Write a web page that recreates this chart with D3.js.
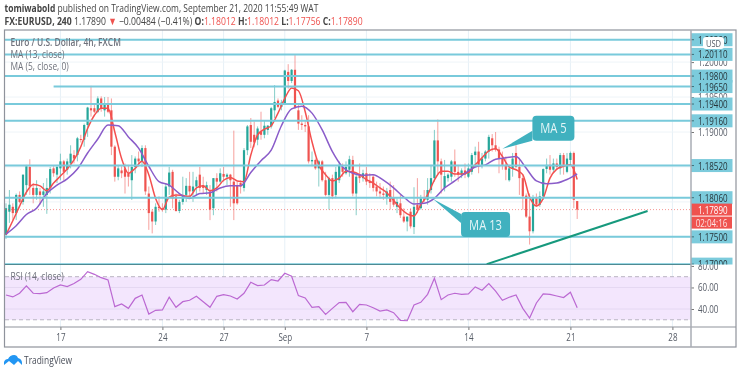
<!DOCTYPE html>
<html>
<head>
<meta charset="utf-8">
<script src="https://cdn.jsdelivr.net/npm/d3@7"></script>
<style>
  html, body { margin: 0; padding: 0; background: #fff; }
  svg { display: block; font-family: "Open Sans", sans-serif; }
</style>
</head>
<body>
<div id="chart"></div>
<script>
// Candle values, one entry per 4h bar
const opens = [
  1.1753,1.1786,1.1793,1.1784,1.1810,1.1800,1.1824,1.1850,1.1820,1.1810,
  1.1815,1.1810,1.1810,1.1820,1.1848,1.1839,1.1848,1.1858,1.1846,1.1855,
  1.1867,1.1867,1.1890,1.1889,1.1910,1.1934,1.1934,1.1929,1.1948,1.1931,
  1.1941,1.1931,1.1879,1.1836,1.1845,1.1848,1.1841,1.1831,1.1850,1.1862,
  1.1858,1.1877,1.1812,1.1786,1.1772,1.1793,1.1791,1.1789,1.1822,1.1843,
  1.1808,1.1787,1.1800,1.1810,1.1823,1.1815,1.1822,1.1839,1.1824,1.1817,
  1.1815,1.1791,1.1834,1.1829,1.1840,1.1836,1.1839,1.1829,1.1824,1.1827,
  1.1820,1.1874,1.1910,1.1896,1.1889,1.1900,1.1896,1.1903,1.1908,1.1931,
  1.1945,1.1936,1.1941,1.1986,1.1973,1.1989,1.1931,1.1912,1.1910,1.1908,
  1.1858,1.1860,1.1848,1.1858,1.1831,1.1810,1.1834,1.1810,1.1831,1.1850,
  1.1841,1.1846,1.1860,1.1812,1.1839,1.1834,1.1841,1.1829,1.1836,1.1822,
  1.1815,1.1812,1.1807,1.1817,1.1807,1.1793,1.1798,1.1779,1.1772,1.1786,
  1.1764,1.1796,1.1791,1.1805,1.1803,1.1817,1.1834,1.1888,1.1858,1.1820,
  1.1834,1.1836,1.1858,1.1843,1.1839,1.1845,1.1836,1.1843,1.1867,1.1872,
  1.1853,1.1862,1.1872,1.1891,1.1881,1.1875,1.1862,1.1853,1.1831,1.1848,
  1.1870,1.1850,1.1834,1.1809,1.1779,1.1758,1.1807,1.1796,1.1808,1.1847,
  1.1853,1.1846,1.1855,1.1848,1.1867,1.1843,1.1860,1.1870,1.18012
];
const highs = [
  1.1798,1.1817,1.1798,1.1812,1.1815,1.1839,1.1853,1.1861,1.1827,1.1831,
  1.1820,1.1827,1.1834,1.1850,1.1851,1.1853,1.1869,1.1860,1.1862,1.1881,
  1.1874,1.1893,1.1896,1.1912,1.1936,1.1966,1.1941,1.1951,1.1951,1.1950,
  1.1950,1.1948,1.1881,1.1853,1.1851,1.1855,1.1853,1.1867,1.1865,1.1872,
  1.1881,1.1881,1.1822,1.1789,1.1798,1.1808,1.1798,1.1827,1.1850,1.1846,
  1.1812,1.1803,1.1836,1.1834,1.1843,1.1843,1.1836,1.1850,1.1836,1.1829,
  1.1824,1.1834,1.1841,1.1848,1.1850,1.1841,1.1840,1.1902,1.1829,1.1831,
  1.1877,1.1910,1.1920,1.1915,1.1908,1.1929,1.1917,1.1910,1.1936,1.1967,
  1.1948,1.1946,1.1989,1.1997,1.1990,1.2010,1.1939,1.1924,1.1917,1.1924,
  1.1872,1.1862,1.1860,1.1860,1.1843,1.1836,1.1839,1.1850,1.1858,1.1855,
  1.1858,1.1866,1.1866,1.1839,1.1855,1.1846,1.1850,1.1841,1.1839,1.1829,
  1.1827,1.1822,1.1820,1.1829,1.1824,1.1805,1.1810,1.1791,1.1779,1.1791,
  1.1821,1.1834,1.1810,1.1817,1.1834,1.1853,1.1903,1.1918,1.1862,1.1860,
  1.1841,1.1860,1.1875,1.1853,1.1848,1.1855,1.1855,1.1870,1.1879,1.1886,
  1.1870,1.1874,1.1896,1.1897,1.1900,1.1879,1.1872,1.1865,1.1853,1.1870,
  1.1881,1.1862,1.1839,1.1812,1.1812,1.1810,1.1812,1.1815,1.1848,1.1862,
  1.1867,1.1862,1.1862,1.1870,1.1870,1.1870,1.1872,1.1872,1.18012
];
const lows = [
  1.1747,1.1770,1.1774,1.1774,1.1798,1.1796,1.1810,1.1810,1.1798,1.1803,
  1.1796,1.1793,1.1783,1.1812,1.1836,1.1827,1.1831,1.1831,1.1839,1.1848,
  1.1855,1.1858,1.1885,1.1879,1.1893,1.1922,1.1927,1.1927,1.1929,1.1922,
  1.1927,1.1867,1.1829,1.1831,1.1834,1.1812,1.1822,1.1803,1.1841,1.1850,
  1.1850,1.1810,1.1760,1.1755,1.1767,1.1786,1.1786,1.1784,1.1810,1.1791,
  1.1786,1.1784,1.1796,1.1800,1.1805,1.1800,1.1810,1.1815,1.1812,1.1810,
  1.1774,1.1781,1.1815,1.1827,1.1829,1.1824,1.1793,1.1774,1.1796,1.1812,
  1.1815,1.1867,1.1877,1.1878,1.1881,1.1889,1.1891,1.1896,1.1905,1.1920,
  1.1934,1.1931,1.1940,1.1962,1.1970,1.1934,1.1903,1.1903,1.1900,1.1855,
  1.1851,1.1846,1.1822,1.1829,1.1808,1.1789,1.1804,1.1805,1.1827,1.1836,
  1.1839,1.1836,1.1808,1.1781,1.1827,1.1829,1.1824,1.1820,1.1815,1.1808,
  1.1805,1.1803,1.1796,1.1789,1.1793,1.1784,1.1777,1.1770,1.1758,1.1762,
  1.1754,1.1784,1.1789,1.1800,1.1796,1.1812,1.1829,1.1839,1.1812,1.1815,
  1.1829,1.1829,1.1836,1.1829,1.1834,1.1834,1.1834,1.1839,1.1850,1.1841,
  1.1848,1.1858,1.1862,1.1872,1.1872,1.1841,1.1846,1.1831,1.1829,1.1836,
  1.1848,1.1810,1.1789,1.1777,1.1739,1.1755,1.1793,1.1793,1.1803,1.1841,
  1.1839,1.1841,1.1846,1.1839,1.1839,1.1841,1.1853,1.1791,1.17756
];
const closes = [
  1.1791,1.1796,1.1784,1.1810,1.1800,1.1839,1.1851,1.1822,1.1810,1.1820,
  1.1810,1.1815,1.1820,1.1847,1.1841,1.1850,1.1858,1.1843,1.1858,1.1869,
  1.1862,1.1891,1.1889,1.1910,1.1935,1.1931,1.1929,1.1948,1.1934,1.1940,
  1.1929,1.1879,1.1836,1.1848,1.1841,1.1836,1.1836,1.1850,1.1862,1.1858,
  1.1877,1.1815,1.1784,1.1772,1.1793,1.1791,1.1789,1.1822,1.1842,1.1805,
  1.1787,1.1800,1.1810,1.1823,1.1815,1.1822,1.1831,1.1820,1.1820,1.1824,
  1.1789,1.1834,1.1829,1.1841,1.1836,1.1839,1.1831,1.1798,1.1798,1.1822,
  1.1874,1.1908,1.1886,1.1885,1.1905,1.1896,1.1909,1.1909,1.1934,1.1943,
  1.1936,1.1942,1.1988,1.1973,1.1989,1.1934,1.1912,1.1910,1.1908,1.1858,
  1.1860,1.1848,1.1858,1.1831,1.1810,1.1834,1.1808,1.1843,1.1853,1.1843,
  1.1850,1.1861,1.1812,1.1836,1.1834,1.1841,1.1829,1.1827,1.1820,1.1815,
  1.1812,1.1810,1.1815,1.1800,1.1796,1.1800,1.1781,1.1772,1.1779,1.1765,
  1.1793,1.1789,1.1805,1.1803,1.1817,1.1834,1.1888,1.1858,1.1839,1.1837,
  1.1839,1.1858,1.1843,1.1839,1.1845,1.1839,1.1848,1.1867,1.1872,1.1853,
  1.1862,1.1872,1.1893,1.1881,1.1875,1.1862,1.1853,1.1846,1.1848,1.1862,
  1.1850,1.1834,1.1808,1.1779,1.1758,1.1807,1.1796,1.1808,1.1847,1.1853,
  1.1846,1.1855,1.1850,1.1867,1.1853,1.1862,1.1870,1.1803,1.17890
];

// MA(5) read every 2nd bar, MA(13) every 3rd bar, RSI every 2nd bar
const ma5Values = [
  1.1753,1.1773,1.1794,1.1814,1.1825,1.1823,1.1816,1.1827,1.1837,1.1847,
  1.1860,1.1879,1.1905,1.1924,1.1934,1.1934,1.1900,1.1862,1.1841,1.1848,
  1.1858,1.1839,1.1805,1.1789,1.1807,1.1810,1.1809,1.1808,1.1820,1.1823,
  1.1816,1.1820,1.1831,1.1835,1.1830,1.1829,1.1867,1.1896,1.1904,1.1909,
  1.1927,1.1948,1.1963,1.1959,1.1929,1.1886,1.1853,1.1839,1.1830,1.1834,
  1.1844,1.1843,1.1839,1.1832,1.1827,1.1820,1.1813,1.1802,1.1791,1.1783,
  1.1780,1.1796,1.1810,1.1831,1.1844,1.1844,1.1840,1.1840,1.1842,1.1853,
  1.1863,1.1873,1.1876,1.1865,1.1850,1.1846,1.1839,1.1807,1.1794,1.1805,
  1.1834,1.1847,1.1851,1.1853,1.1832
];
const ma13Values = [
  1.1754,1.1766,1.1782,1.1791,1.1812,1.1824,1.1833,1.1847,1.1870,1.1890,
  1.1910,1.1909,1.1893,1.1877,1.1851,1.1829,1.1824,1.1812,1.1805,1.1812,
  1.1813,1.1820,1.1823,1.1823,1.1842,1.1859,1.1874,1.1909,1.1933,1.1937,
  1.1927,1.1903,1.1872,1.1850,1.1841,1.1838,1.1839,1.1831,1.1820,1.1807,
  1.1797,1.1798,1.1805,1.1820,1.1830,1.1841,1.1850,1.1853,1.1861,1.1863,
  1.1865,1.1848,1.1830,1.1826,1.1827,1.1832,1.1840
];
const rsiValues = [
  53.0,51.2,54.6,61.4,54.6,54.3,55.2,59.5,62.3,60.8,
  63.6,67.6,74.7,72.2,69.1,67.0,42.2,44.7,40.6,49.9,
  53.0,35.3,38.8,39.1,50.9,41.6,46.8,48.1,51.8,46.8,
  41.6,51.8,53.3,52.1,49.3,54.6,64.8,61.7,62.3,67.3,
  66.0,73.2,70.4,52.4,50.2,41.6,42.2,35.0,40.6,45.9,
  46.2,37.5,44.3,43.7,41.2,38.1,39.1,36.6,29.5,29.1,
  43.7,46.2,53.6,68.5,48.7,53.0,54.6,53.6,54.0,60.5,
  57.4,63.6,56.7,48.1,50.9,53.0,40.6,31.6,45.6,54.0,
  53.6,52.1,50.6,55.5,41.2
];

// Horizontal levels and their labels on the price axis
const levelValues = [1.2032, 1.2011, 1.1980, 1.1965, 1.1940, 1.1916, 1.1852, 1.1806, 1.1750, 1.1711];
const levelLabels = ['1.20320', '1.20110', '1.19800', '1.19650', '1.19400', '1.19160', '1.18520', '1.18060', '1.17500', '1.17000'];
const gridPrices = [1.2000, 1.1950, 1.1900, 1.1850, 1.1800, 1.1750];
const priceTicks = [1.2000, 1.1950, 1.1900];
const rsiTicks = [80, 60, 40];
const tickBars = [16, 46, 64, 82, 106, 136, 166, 196];
const tickLabels = ['17', '24', '27', 'Sep', '7', '14', '21', '28'];
const lastPrice = 1.1789;

// Layout
const width = 740, height = 373;
const plotLeft = 5, axisX = 691, plotRight = 736;
const plotTop = 30, paneBottom = 264.5, rsiBottom = 327, frameBottom = 347;
const barStep = 3.4, firstBarX = 6;
const textSquash = 0.8; // the reference is squeezed sideways

const svg = d3.select('#chart').append('svg')
  .attr('width', width)
  .attr('height', height)
  .attr('viewBox', `0 0 ${width} ${height}`);

const defs = svg.append('defs');
defs.append('clipPath').attr('id', 'pane')
  .append('rect').attr('x', plotLeft).attr('y', plotTop + 1)
  .attr('width', axisX - plotLeft).attr('height', paneBottom - plotTop - 1);
defs.append('clipPath').attr('id', 'axispane')
  .append('rect').attr('x', axisX).attr('y', plotTop + 1)
  .attr('width', plotRight - axisX).attr('height', paneBottom - plotTop - 1);
defs.append('filter').attr('id', 'soft')
  .attr('x', '-5%').attr('y', '-5%').attr('width', '110%').attr('height', '110%')
  .append('feGaussianBlur').attr('stdDeviation', 0.35);

// Scales
const x = d3.scaleLinear()
  .domain([0, 196])
  .range([firstBarX, firstBarX + barStep * 196]);
const y = d3.scaleLinear()
  .domain([1.19, 1.2011])
  .range([132, 54.4]);
const yRsi = d3.scaleLinear()
  .domain([40, 70])
  .range([309, 276.7]);

const root = svg.append('g').attr('filter', 'url(#soft)');

// Gridlines
const grid = root.append('g');
grid.selectAll('line.v').data(tickBars).join('line')
  .attr('class', 'v')
  .attr('x1', d => x(d)).attr('x2', d => x(d))
  .attr('y1', plotTop).attr('y2', rsiBottom)
  .attr('stroke', '#e6f0f7');
grid.selectAll('line.h').data(gridPrices).join('line')
  .attr('class', 'h')
  .attr('x1', plotLeft).attr('x2', axisX)
  .attr('y1', d => y(d)).attr('y2', d => y(d))
  .attr('stroke', '#eef4f8');

// RSI band
root.append('rect')
  .attr('x', plotLeft).attr('width', axisX - plotLeft)
  .attr('y', yRsi(70)).attr('height', yRsi(30) - yRsi(70))
  .attr('fill', '#f3e6fd');
root.selectAll('line.rsigrid').data([60, 40]).join('line')
  .attr('class', 'rsigrid')
  .attr('x1', plotLeft).attr('x2', axisX)
  .attr('y1', d => yRsi(d)).attr('y2', d => yRsi(d))
  .attr('stroke', '#e4d8f2');
root.selectAll('line.rsiband').data([70, 30]).join('line')
  .attr('class', 'rsiband')
  .attr('x1', plotLeft).attr('x2', axisX)
  .attr('y1', d => yRsi(d)).attr('y2', d => yRsi(d))
  .attr('stroke', '#b9b4c2')
  .attr('stroke-dasharray', '4,3');

const pane = root.append('g').attr('clip-path', 'url(#pane)');

// Candles
const up = '#26a69a', down = '#ef5350';
const bars = closes.map((c, i) => i);
pane.selectAll('line.wick').data(bars).join('line')
  .attr('class', 'wick')
  .attr('x1', i => x(i)).attr('x2', i => x(i))
  .attr('y1', i => y(highs[i])).attr('y2', i => y(lows[i]))
  .attr('stroke', i => closes[i] >= opens[i] ? up : down)
  .attr('stroke-opacity', 0.55);
pane.selectAll('rect.body').data(bars).join('rect')
  .attr('class', 'body')
  .attr('x', i => x(i) - 1.1)
  .attr('width', 2.2)
  .attr('y', i => y(Math.max(opens[i], closes[i])))
  .attr('height', i => Math.max(1, Math.abs(y(opens[i]) - y(closes[i]))))
  .attr('fill', i => closes[i] >= opens[i] ? up : down);

// Last price dotted line
pane.append('line')
  .attr('x1', plotLeft).attr('x2', axisX)
  .attr('y1', y(lastPrice)).attr('y2', y(lastPrice))
  .attr('stroke', '#ef5350')
  .attr('stroke-opacity', 0.6)
  .attr('stroke-dasharray', '1,2');

// Moving averages
const maLine = step => d3.line()
  .x((d, i) => x(i * step))
  .y(d => y(d))
  .curve(d3.curveMonotoneX);
pane.append('path').datum(ma5Values)
  .attr('fill', 'none').attr('stroke', '#f4504f').attr('stroke-width', 1.5)
  .attr('d', maLine(2));
pane.append('path').datum(ma13Values)
  .attr('fill', 'none').attr('stroke', '#8a5cc9').attr('stroke-width', 1.5)
  .attr('d', maLine(3));

// Level lines, the 1.19650 one starts later than the others
pane.selectAll('line.level').data(levelValues).join('line')
  .attr('class', 'level')
  .attr('x1', d => d === 1.1965 ? x(14) : plotLeft)
  .attr('x2', axisX)
  .attr('y1', d => y(d)).attr('y2', d => y(d))
  .attr('stroke', '#79cadb')
  .attr('stroke-width', 2);

// Trend line
pane.append('line')
  .attr('x1', x(141.4)).attr('y1', y(1.1711))
  .attr('x2', x(188.7)).attr('y2', y(1.1787))
  .attr('stroke', '#16997d')
  .attr('stroke-width', 2);

// Callouts, anchored on the bar and price they point at
function callout(tipBar, tipPrice, label, bx, by, bw, bh, b1, b2) {
  const tx = x(tipBar), ty = y(tipPrice);
  const g = root.append('g');
  g.append('path')
    .attr('d', `M${tx},${ty}L${tx + bx},${ty + b1}L${tx + bx},${ty + b2}Z`)
    .attr('fill', '#3fb1bf');
  g.append('rect')
    .attr('x', tx + bx).attr('y', ty + by)
    .attr('width', bw).attr('height', bh).attr('rx', 4)
    .attr('fill', '#3fb1bf');
  g.append('text')
    .attr('x', tx + bx + bw / 2).attr('y', ty + by + bh / 2 + 5)
    .attr('text-anchor', 'middle')
    .attr('fill', '#e4f5f7')
    .style('font-size', '14px')
    .text(label);
}
callout(146, 1.1876, 'MA 5', 30, -33, 42, 25, -18, -8);
callout(125.6, 1.1804, 'MA 13', 28, 13, 49, 25, 15, 24);

// RSI line
root.append('path').datum(rsiValues)
  .attr('fill', 'none').attr('stroke', '#bb68d2').attr('stroke-width', 1.2)
  .attr('d', d3.line().x((d, i) => x(i * 2)).y(d => yRsi(d)));

// Price axis
const axisTextColor = '#555b66';
const priceAxis = root.append('g')
  .attr('transform', `translate(${axisX},0)`)
  .call(d3.axisRight(y).tickValues(priceTicks).tickSize(3).tickPadding(4).tickFormat(d3.format('.5f')));
const rsiAxis = root.append('g')
  .attr('transform', `translate(${axisX},0)`)
  .call(d3.axisRight(yRsi).tickValues(rsiTicks).tickSize(3).tickPadding(4).tickFormat(d3.format('.2f')));
[priceAxis, rsiAxis].forEach(a => {
  a.select('.domain').remove();
  a.selectAll('line').attr('stroke', '#777');
  a.selectAll('text').attr('fill', axisTextColor)
    .style('font-size', '10px')
    .style('font-family', '"Open Sans", sans-serif');
});

// Level labels
const labels = root.append('g').attr('clip-path', 'url(#axispane)');
labels.selectAll('rect').data(levelValues).join('rect')
  .attr('x', axisX).attr('width', 41.5)
  .attr('y', d => y(d) - 6.5).attr('height', 13)
  .attr('fill', '#7ccbdc');
labels.selectAll('line').data(levelValues).join('line')
  .attr('x1', axisX).attr('x2', axisX + 3)
  .attr('y1', d => y(d)).attr('y2', d => y(d))
  .attr('stroke', '#3f6f78');
labels.selectAll('text').data(levelValues).join('text')
  .attr('x', axisX + 7)
  .attr('y', d => y(d) + 4)
  .attr('fill', '#26343a')
  .style('font-size', '10px')
  .text((d, i) => levelLabels[i]);

// Last price and countdown boxes
root.append('rect').attr('x', axisX).attr('y', y(lastPrice) - 6).attr('width', 41).attr('height', 12).attr('fill', '#ef5350');
root.append('text').attr('x', axisX + 7).attr('y', y(lastPrice) + 4)
  .attr('fill', '#fff').style('font-size', '10px').text('1.17890');
root.append('rect').attr('x', axisX).attr('y', y(lastPrice) + 7).attr('width', 41).attr('height', 12).attr('fill', '#ef5350');
root.append('text').attr('x', axisX + 20.5).attr('y', y(lastPrice) + 17).attr('text-anchor', 'middle')
  .attr('fill', '#fde3e2').style('font-size', '10px').text('02:04:16');

// USD button
root.append('rect').attr('x', 703).attr('y', 37).attr('width', 21).attr('height', 12).attr('rx', 3)
  .attr('fill', '#fff');
root.append('text').attr('x', 713.5).attr('y', 46.5).attr('text-anchor', 'middle')
  .attr('fill', '#555b66').style('font-size', '9.5px').text('USD');

// Time axis
const timeAxis = root.append('g')
  .attr('transform', `translate(0,${rsiBottom})`)
  .call(d3.axisBottom(x).tickValues(tickBars).tickSize(3).tickPadding(4).tickFormat((d, i) => tickLabels[i]));
timeAxis.select('.domain').remove();
timeAxis.selectAll('line').attr('stroke', '#777');
timeAxis.selectAll('text').attr('fill', axisTextColor)
  .style('font-size', '10px')
  .style('font-family', '"Open Sans", sans-serif');

// Frame and pane separators
root.append('rect')
  .attr('x', 4.5).attr('y', plotTop)
  .attr('width', plotRight - 4.5).attr('height', frameBottom - plotTop)
  .attr('fill', 'none').attr('stroke', '#8f939c').attr('stroke-width', 1.2);
root.append('line').attr('x1', plotLeft).attr('x2', axisX)
  .attr('y1', paneBottom).attr('y2', paneBottom)
  .attr('stroke', '#4f8a92').attr('stroke-width', 1);
root.append('line').attr('x1', plotLeft).attr('x2', plotRight)
  .attr('y1', rsiBottom).attr('y2', rsiBottom)
  .attr('stroke', '#8f939c').attr('stroke-width', 1.2);
root.append('line').attr('x1', axisX).attr('x2', axisX)
  .attr('y1', plotTop).attr('y2', frameBottom)
  .attr('stroke', '#a9adb5').attr('stroke-width', 1.5);

// Pane legends
const legendColor = '#6f727c';
root.append('text').attr('x', 10.5).attr('y', 45.5).attr('fill', legendColor)
  .style('font-size', '10.5px').style('font-weight', 600).text('Euro / U.S. Dollar, 4h, FXCM');
root.append('text').attr('x', 10.5).attr('y', 58).attr('fill', legendColor)
  .style('font-size', '10.5px').text('MA (13, close)');
root.append('text').attr('x', 10.5).attr('y', 69.5).attr('fill', legendColor)
  .style('font-size', '10.5px').text('MA (5, close, 0)');
root.append('text').attr('x', 10.5).attr('y', 280).attr('fill', legendColor)
  .style('font-size', '10.5px').text('RSI (14, close)');

// Header
const head1 = root.append('text').attr('x', 4.5).attr('y', 12).attr('fill', '#444').style('font-size', '10.6px');
head1.append('tspan').style('font-weight', 700).text('tomiwabold');
head1.append('tspan').text(' published on TradingView.com, September 21, 2020 11:55:49 WAT');

const head2 = root.append('text').attr('x', 4.5).attr('y', 24.5).attr('fill', '#444').style('font-size', '10.8px');
head2.append('tspan').style('font-weight', 700).text('FX:EURUSD, 240');
head2.append('tspan').text(' 1.17890 ');
head2.append('tspan').attr('fill', '#ef5350').text('▼');
head2.append('tspan').text(' −0.00484 (−0.41%) ');
[['O:', '1.18012'], ['H:', '1.18012'], ['L:', '1.17756'], ['C:', '1.17890']].forEach((p, i) => {
  head2.append('tspan').style('font-weight', 700).text((i ? ' ' : '') + p[0]);
  head2.append('tspan').attr('fill', '#ef5350').text(p[1]);
});

// TradingView logo
const logo = root.append('g').attr('fill', '#2196f3');
logo.append('path').attr('d', 'M4,365 L4,362 Q5,359 8,359 Q10,355 14,355 Q17,355 18,358 Q22,359 22,363 L22,365 L18,361 L14,365 L9,361 Z');
root.append('text').attr('x', 24).attr('y', 364).attr('fill', '#4a4f5a')
  .style('font-size', '10.5px').text('TradingView');

// Squeeze every text to the reference's narrower proportions
root.selectAll('text').each(function() {
  const len = this.getComputedTextLength();
  d3.select(this)
    .attr('textLength', len * textSquash)
    .attr('lengthAdjust', 'spacingAndGlyphs');
});
</script>
</body>
</html>
